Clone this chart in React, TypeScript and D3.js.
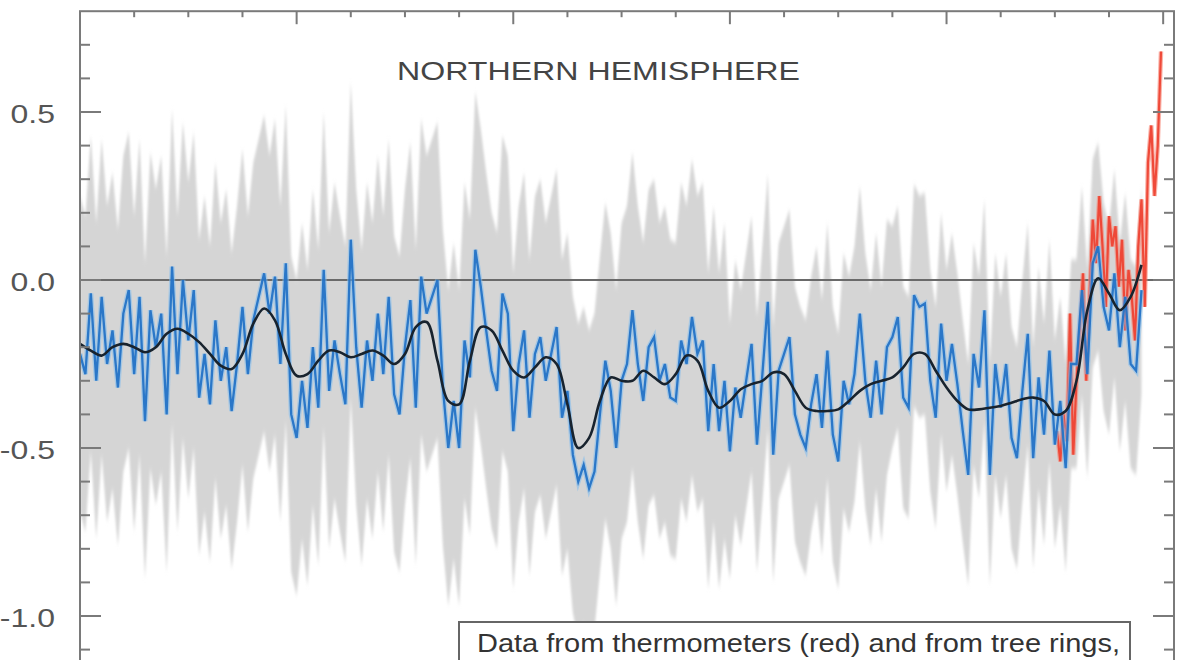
import React from "react";
import * as d3 from "d3";

// ---- Data ----
const blueStartYear = 1000;
const blueStepYears = 5;
const blueValues = [
  -0.22, -0.28, -0.04, -0.30, -0.05, -0.25, -0.15, -0.32, -0.10, -0.03,
  -0.28, -0.05, -0.42, -0.09, -0.20, -0.10, -0.40, 0.04, -0.28, 0.00,
  -0.18, -0.03, -0.35, -0.22, -0.37, -0.12, -0.30, -0.20, -0.39, -0.25,
  -0.08, -0.28, -0.12, -0.05, 0.02, -0.10, 0.01, -0.25, 0.05, -0.40,
  -0.47, -0.30, -0.44, -0.20, -0.38, 0.03, -0.33, -0.18, -0.28, -0.37,
  0.12, -0.20,
  -0.38, -0.18, -0.30, -0.10, -0.28, -0.05, -0.34, -0.40, -0.20, -0.06,
  -0.38, 0.01, -0.10, -0.05, 0.00, -0.32, -0.50, -0.36, -0.50, -0.18,
  -0.29, 0.09, -0.02, -0.15, -0.27, -0.33, -0.04, -0.10, -0.45, -0.25,
  -0.15, -0.41, -0.22, -0.17, -0.30, -0.22, -0.14, -0.41, -0.33, -0.52,
  -0.60, -0.55, -0.62, -0.57, -0.40, -0.24, -0.33, -0.50, -0.30, -0.25,
  -0.09, -0.25,
  -0.36, -0.20, -0.17, -0.30, -0.25, -0.35, -0.36, -0.18, -0.25, -0.11,
  -0.22, -0.18, -0.45, -0.25, -0.45, -0.30, -0.51, -0.32, -0.41, -0.30,
  -0.19, -0.49, -0.28, -0.065, -0.52, -0.27, -0.22, -0.17, -0.40, -0.46,
  -0.50, -0.37, -0.28, -0.44, -0.21, -0.46, -0.54, -0.30, -0.37, -0.28,
  -0.10, -0.30, -0.41, -0.24, -0.40, -0.20, -0.17, -0.11, -0.35, -0.38,
  -0.045, -0.08,
  -0.07, -0.30, -0.41, -0.13, -0.30, -0.19, -0.31, -0.45, -0.58, -0.22,
  -0.32, -0.09, -0.58, -0.25, -0.38, -0.25, -0.47, -0.53, -0.33, -0.16,
  -0.53, -0.29, -0.46, -0.21, -0.49, -0.36, -0.56, -0.25, -0.25, -0.03,
  -0.28, 0.05, 0.10, -0.08, -0.15, 0.02, -0.20, -0.05, -0.25, -0.27,
  -0.03,
];

const smoothStartYear = 1000;
const smoothStepYears = 10;
const smoothValues = [
  -0.19, -0.21, -0.225, -0.20, -0.19, -0.20, -0.215, -0.20, -0.16, -0.145,
  -0.16, -0.185, -0.22, -0.255, -0.265, -0.22, -0.13, -0.085, -0.12, -0.22,
  -0.285, -0.28, -0.24, -0.21, -0.215, -0.23, -0.22, -0.21, -0.225, -0.25,
  -0.22, -0.14, -0.125, -0.24, -0.36, -0.37, -0.24, -0.14, -0.15, -0.21,
  -0.27, -0.29, -0.26, -0.23, -0.25, -0.37, -0.50, -0.47, -0.36, -0.29,
  -0.30, -0.30, -0.27, -0.29, -0.31, -0.28, -0.225, -0.24, -0.33, -0.38,
  -0.36, -0.325, -0.31, -0.30, -0.275, -0.28, -0.33, -0.38, -0.39, -0.39,
  -0.385, -0.36, -0.33, -0.31, -0.30, -0.29, -0.26, -0.22, -0.22, -0.27,
  -0.32, -0.36, -0.385, -0.385, -0.38, -0.375, -0.365, -0.355, -0.35, -0.36,
  -0.40, -0.39, -0.30, -0.09, 0.005, -0.04, -0.09, -0.05, 0.045,
];

const redStartYear = 1902;
const redStepYears = 3;
const redValues = [
  -0.45, -0.54, -0.40, -0.48, -0.10, -0.52, -0.30, -0.15, 0.02, -0.30,
  -0.05, 0.18, 0.05, 0.25, 0.10, -0.08, 0.19, 0.10, 0.16, -0.02,
  0.12, -0.15, 0.03, -0.05, -0.18, 0.10, 0.24, -0.08, 0.35, 0.46,
  0.25, 0.40, 0.68,
];

// 2-sigma half width of the uncertainty (grey) band, by period
const uncertaintyFromYear = [1000, 1600, 1750, 1900];
const uncertaintyHalfWidth = [0.47, 0.38, 0.33, 0.31];

const yTickLabels = [0.5, 0.0, -0.5, -1.0];
const titleText = "NORTHERN HEMISPHERE";
const noteText = "Data from thermometers (red) and from tree rings,";

// ---- Layout ----
const W = 1191;
const H = 660;
const FONT = "'Liberation Sans', Arial, Helvetica, sans-serif";

export default function App() {
  const x = d3.scaleLinear().domain([1000, 2010]).range([80, 1174]);
  const y = d3.scaleLinear().domain([-1, 0.5]).range([616, 112]);

  const blue = blueValues.map((v, i) => ({ yr: blueStartYear + i * blueStepYears, v }));
  const smooth = smoothValues.map((v, i) => ({ yr: smoothStartYear + i * smoothStepYears, v }));
  const red = redValues.map((v, i) => ({ yr: redStartYear + i * redStepYears, v }));

  const halfWidthAt = (yr: number) => {
    let hw = uncertaintyHalfWidth[0];
    uncertaintyFromYear.forEach((from, k) => {
      if (yr >= from) hw = uncertaintyHalfWidth[k];
    });
    return hw;
  };

  const band = d3
    .area<{ yr: number; v: number }>()
    .x((d) => x(d.yr))
    .y0((d) => y(d.v - halfWidthAt(d.yr)))
    .y1((d) => y(d.v + halfWidthAt(d.yr)))
    .curve(d3.curveLinear);

  const line = d3
    .line<{ yr: number; v: number }>()
    .x((d) => x(d.yr))
    .y((d) => y(d.v))
    .curve(d3.curveLinear);

  const smoothLine = d3
    .line<{ yr: number; v: number }>()
    .x((d) => x(d.yr))
    .y((d) => y(d.v))
    .curve(d3.curveCatmullRom.alpha(0.5));

  const left = x(1000);
  const right = x(2010);
  const top = y(0.8);
  const bottom = H + 40;

  const yTicks = d3.range(-11, 8).map((k) => k / 10);
  const xTicks = d3.range(1050, 2001, 50);
  const axisColor = "#7a7a7a";

  return (
    <svg
      width={W}
      height={H}
      style={{ position: "absolute", left: 0, top: 0, background: "#fff" }}
    >
      <defs>
        <filter id="soft" x="-5%" y="-5%" width="110%" height="110%">
          <feGaussianBlur stdDeviation="1.0 2.6" />
        </filter>
        <filter id="softer" x="-5%" y="-5%" width="110%" height="110%">
          <feGaussianBlur stdDeviation="0.5" />
        </filter>
        <clipPath id="plot">
          <rect x={left} y={top} width={right - left} height={bottom - top} />
        </clipPath>
      </defs>

      <g clipPath="url(#plot)">
        {/* uncertainty band */}
        <path d={band(blue) || ""} fill="#d5d5d5" filter="url(#soft)" />

        {/* zero line */}
        <line x1={left} x2={right} y1={y(0)} y2={y(0)} stroke="#6a6a6a" strokeWidth={2} />

        {/* instrumental (red) */}
        <g filter="url(#softer)">
          <path d={line(red) || ""} fill="none" stroke="#f7806f" strokeWidth={4.5} opacity={0.6} />
          <path d={line(red) || ""} fill="none" stroke="#ee4433" strokeWidth={2.2} opacity={0.95} />
        </g>

        {/* annual reconstruction (blue) */}
        <g filter="url(#softer)">
          <path d={line(blue) || ""} fill="none" stroke="#7fbcef" strokeWidth={5} opacity={0.55} />
          <path d={line(blue) || ""} fill="none" stroke="#2373c6" strokeWidth={2.3} opacity={0.95} />
        </g>

        {/* smoothed */}
        <path d={smoothLine(smooth) || ""} fill="none" stroke="#18232e" strokeWidth={2.6} />
      </g>

      {/* frame */}
      <rect
        x={left}
        y={top}
        width={right - left}
        height={bottom - top}
        fill="none"
        stroke={axisColor}
        strokeWidth={2}
      />

      {/* left and right ticks */}
      {yTicks.map((t) => {
        const major = Math.abs((t * 10) % 5) < 1e-6;
        const len = major ? 21 : 10;
        return (
          <g key={"yt" + t}>
            <line x1={left} x2={left + len} y1={y(t)} y2={y(t)} stroke={axisColor} strokeWidth={2} />
            <line x1={right} x2={right - len} y1={y(t)} y2={y(t)} stroke={axisColor} strokeWidth={2} />
          </g>
        );
      })}

      {/* top ticks */}
      {xTicks.map((t) => {
        const major = t % 200 === 0;
        return (
          <line
            key={"xt" + t}
            x1={x(t)}
            x2={x(t)}
            y1={top}
            y2={top + (major ? 13 : 6)}
            stroke={axisColor}
            strokeWidth={2}
          />
        );
      })}

      {/* y labels */}
      {yTickLabels.map((t) => (
        <text
          key={"yl" + t}
          transform={`translate(55,${y(t) + 11}) scale(1.28,1)`}
          textAnchor="end"
          fontFamily={FONT}
          fontSize={25}
          fill="#555"
        >
          {t.toFixed(1)}
        </text>
      ))}

      {/* title */}
      <text
        x={397}
        y={80}
        fontFamily={FONT}
        fontSize={25}
        fill="#444"
        textLength={403}
        lengthAdjust="spacingAndGlyphs"
      >
        {titleText}
      </text>

      {/* note box */}
      <rect x={459} y={622} width={671} height={100} fill="#fff" stroke="#666" strokeWidth={2} />
      <text
        x={477}
        y={652}
        fontFamily={FONT}
        fontSize={25}
        fill="#333"
        textLength={643}
        lengthAdjust="spacingAndGlyphs"
      >
        {noteText}
      </text>
    </svg>
  );
}
